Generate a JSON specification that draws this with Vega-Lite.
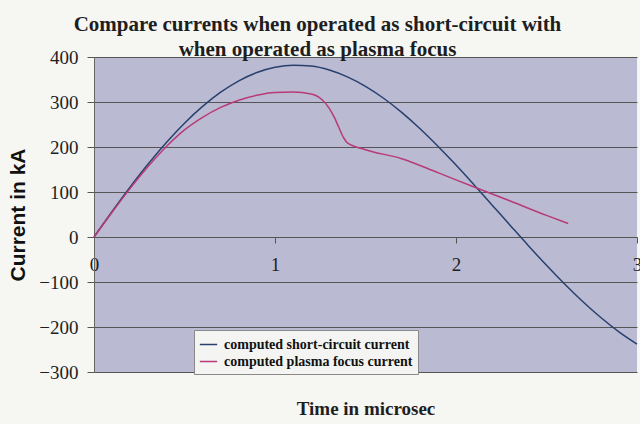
{
  "$schema": "https://vega.github.io/schema/vega-lite/v6.json",
  "width": 543,
  "height": 315,
  "autosize": "none",
  "padding": {"left": 94, "top": 57, "right": 3, "bottom": 52},
  "background": "#f6f6f3",
  "title": {
    "text": ["Compare currents when operated as short-circuit with", "when operated as plasma focus"],
    "font": "Liberation Serif",
    "fontSize": 21,
    "fontWeight": "bold",
    "color": "#1e1e1e",
    "anchor": "middle",
    "dx": -48,
    "baseline": "bottom",
    "lineHeight": 25,
    "offset": -33
  },
  "config": {
    "view": {"fill": "#babbd2", "stroke": null}
  },
  "data": {
    "values": [
      {"t": 0.0, "I": 0, "series": "computed short-circuit current"},
      {"t": 0.1, "I": 56.7, "series": "computed short-circuit current"},
      {"t": 0.2, "I": 111.2, "series": "computed short-circuit current"},
      {"t": 0.3, "I": 162.6, "series": "computed short-circuit current"},
      {"t": 0.4, "I": 210.1, "series": "computed short-circuit current"},
      {"t": 0.5, "I": 252.9, "series": "computed short-circuit current"},
      {"t": 0.6, "I": 290.2, "series": "computed short-circuit current"},
      {"t": 0.7, "I": 321.7, "series": "computed short-circuit current"},
      {"t": 0.8, "I": 347.0, "series": "computed short-circuit current"},
      {"t": 0.9, "I": 365.5, "series": "computed short-circuit current"},
      {"t": 1.0, "I": 377.1, "series": "computed short-circuit current"},
      {"t": 1.1, "I": 381.9, "series": "computed short-circuit current"},
      {"t": 1.2, "I": 379.8, "series": "computed short-circuit current"},
      {"t": 1.3, "I": 371.1, "series": "computed short-circuit current"},
      {"t": 1.4, "I": 355.9, "series": "computed short-circuit current"},
      {"t": 1.5, "I": 334.8, "series": "computed short-circuit current"},
      {"t": 1.6, "I": 308.3, "series": "computed short-circuit current"},
      {"t": 1.7, "I": 276.8, "series": "computed short-circuit current"},
      {"t": 1.8, "I": 241.0, "series": "computed short-circuit current"},
      {"t": 1.9, "I": 201.7, "series": "computed short-circuit current"},
      {"t": 2.0, "I": 159.8, "series": "computed short-circuit current"},
      {"t": 2.1, "I": 115.8, "series": "computed short-circuit current"},
      {"t": 2.2, "I": 70.8, "series": "computed short-circuit current"},
      {"t": 2.3, "I": 25.6, "series": "computed short-circuit current"},
      {"t": 2.4, "I": -19.3, "series": "computed short-circuit current"},
      {"t": 2.5, "I": -62.9, "series": "computed short-circuit current"},
      {"t": 2.6, "I": -104.4, "series": "computed short-circuit current"},
      {"t": 2.7, "I": -143.3, "series": "computed short-circuit current"},
      {"t": 2.8, "I": -179.0, "series": "computed short-circuit current"},
      {"t": 2.9, "I": -210.8, "series": "computed short-circuit current"},
      {"t": 3.0, "I": -238.0, "series": "computed short-circuit current"},
      {"t": 0.0, "I": 0, "series": "computed plasma focus current"},
      {"t": 0.1, "I": 55, "series": "computed plasma focus current"},
      {"t": 0.2, "I": 108, "series": "computed plasma focus current"},
      {"t": 0.3, "I": 157, "series": "computed plasma focus current"},
      {"t": 0.4, "I": 201, "series": "computed plasma focus current"},
      {"t": 0.5, "I": 238, "series": "computed plasma focus current"},
      {"t": 0.6, "I": 266, "series": "computed plasma focus current"},
      {"t": 0.7, "I": 288, "series": "computed plasma focus current"},
      {"t": 0.8, "I": 304, "series": "computed plasma focus current"},
      {"t": 0.9, "I": 315, "series": "computed plasma focus current"},
      {"t": 1.0, "I": 321, "series": "computed plasma focus current"},
      {"t": 1.1, "I": 322, "series": "computed plasma focus current"},
      {"t": 1.2, "I": 318, "series": "computed plasma focus current"},
      {"t": 1.26, "I": 305, "series": "computed plasma focus current"},
      {"t": 1.3, "I": 286, "series": "computed plasma focus current"},
      {"t": 1.33, "I": 264, "series": "computed plasma focus current"},
      {"t": 1.35, "I": 246, "series": "computed plasma focus current"},
      {"t": 1.38, "I": 220, "series": "computed plasma focus current"},
      {"t": 1.4, "I": 209, "series": "computed plasma focus current"},
      {"t": 1.5, "I": 194, "series": "computed plasma focus current"},
      {"t": 1.7, "I": 174, "series": "computed plasma focus current"},
      {"t": 1.9, "I": 143, "series": "computed plasma focus current"},
      {"t": 2.1, "I": 111, "series": "computed plasma focus current"},
      {"t": 2.3, "I": 80, "series": "computed plasma focus current"},
      {"t": 2.5, "I": 48, "series": "computed plasma focus current"},
      {"t": 2.62, "I": 30, "series": "computed plasma focus current"}
    ]
  },
  "mark": {"type": "line", "strokeWidth": 1.5, "interpolate": "monotone"},
  "encoding": {
    "x": {
      "field": "t",
      "type": "quantitative",
      "scale": {"domain": [0, 3], "nice": false},
      "axis": {
        "title": "Time in microsec",
        "titleFont": "Liberation Serif",
        "titleFontSize": 19,
        "titleFontWeight": "bold",
        "titleColor": "#1e1e1e",
        "titleBaseline": "alphabetic",
        "titleY": 177,
        "values": [0, 1, 2, 3],
        "format": "d",
        "offset": -135,
        "grid": false,
        "domain": false,
        "ticks": true,
        "tickColor": "#555555",
        "tickSize": 6,
        "labelFont": "Liberation Serif",
        "labelFontSize": 19,
        "labelColor": "#1e1e1e",
        "labelPadding": 12,
        "labelFlush": false
      }
    },
    "y": {
      "field": "I",
      "type": "quantitative",
      "scale": {"domain": [-300, 400], "nice": false},
      "axis": {
        "title": "Current in kA",
        "titleFont": "Liberation Sans",
        "titleFontSize": 21,
        "titleFontWeight": "bold",
        "titleColor": "#111111",
        "titlePadding": 10,
        "values": [-300, -200, -100, 0, 100, 200, 300, 400],
        "grid": true,
        "gridColor": "#555555",
        "gridOpacity": 1,
        "gridWidth": 1,
        "domain": true,
        "domainColor": "#666666",
        "tickColor": "#555555",
        "tickSize": 7,
        "labelFont": "Liberation Serif",
        "labelFontSize": 19,
        "labelColor": "#1e1e1e",
        "labelPadding": 9
      }
    },
    "color": {
      "field": "series",
      "type": "nominal",
      "scale": {
        "domain": ["computed short-circuit current", "computed plasma focus current"],
        "range": ["#28406e", "#b83a78"]
      },
      "legend": {
        "title": null,
        "orient": "none",
        "legendX": 100,
        "legendY": 273,
        "fillColor": "#f4f4f2",
        "strokeColor": "#8a8a8a",
        "padding": 5,
        "symbolType": "stroke",
        "symbolSize": 300,
        "symbolStrokeWidth": 1.5,
        "labelFont": "Liberation Serif",
        "labelFontSize": 14,
        "labelFontWeight": "bold",
        "labelColor": "#111111",
        "labelOffset": 6,
        "rowPadding": 0,
        "labelLimit": 300
      }
    }
  }
}
